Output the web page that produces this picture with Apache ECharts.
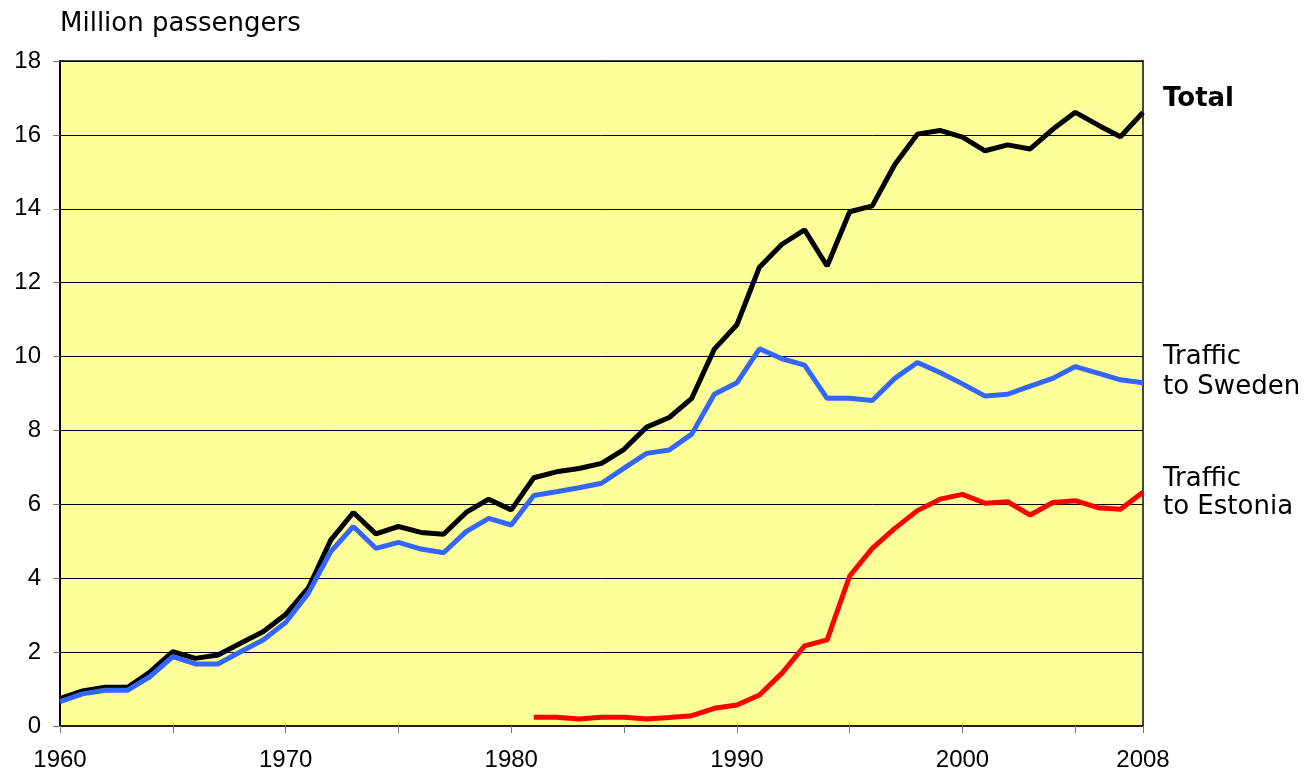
<!DOCTYPE html>
<html>
<head>
<meta charset="utf-8">
<script src="https://cdn.jsdelivr.net/npm/echarts@6/dist/echarts.min.js"></script>
<style>
  html, body { margin: 0; padding: 0; background: #fff; }
  #chart { width: 1310px; height: 775px; }
</style>
</head>
<body>
<div id="chart"></div>
<script>
// years 1960..2008
const years = []
for (let y = 1960; y <= 2008; y++) years.push(y)

const total = [
  0.74, 0.95, 1.05, 1.05, 1.47, 2.01, 1.83, 1.92, 2.24, 2.55,
  3.02, 3.73, 5.03, 5.78, 5.2, 5.4, 5.24, 5.19, 5.78, 6.14,
  5.85, 6.72, 6.88, 6.97, 7.11, 7.49, 8.09, 8.35, 8.87, 10.2,
  10.86, 12.42, 13.04, 13.43, 12.45, 13.92, 14.08, 15.2, 16.02, 16.12,
  15.94, 15.57, 15.73, 15.62, 16.15, 16.61, 16.27, 15.95, 16.61
]

const sweden = [
  0.66, 0.87, 0.97, 0.97, 1.34, 1.88, 1.68, 1.68, 2.01, 2.33,
  2.8, 3.59, 4.72, 5.4, 4.81, 4.97, 4.79, 4.69, 5.26, 5.62,
  5.44, 6.24, 6.34, 6.45, 6.57, 6.98, 7.38, 7.47, 7.9, 8.98,
  9.29, 10.21, 9.94, 9.77, 8.87, 8.87, 8.81, 9.41, 9.84, 9.57,
  9.26, 8.93, 8.98, 9.2, 9.41, 9.73, 9.55, 9.37, 9.29
]

// Estonia starts 1981
const estoniaYears = []
for (let y = 1981; y <= 2008; y++) estoniaYears.push(y)
const estonia = [
  0.24, 0.24, 0.19, 0.24, 0.24, 0.19, 0.23, 0.28, 0.48,
  0.57, 0.84, 1.43, 2.17, 2.33, 4.06, 4.81, 5.35, 5.83, 6.14,
  6.27, 6.03, 6.07, 5.71, 6.05, 6.1, 5.91, 5.87, 6.33
]

const yTicks = [0, 2, 4, 6, 8, 10, 12, 14, 16, 18]
const xLabels = [1960, 1970, 1980, 1990, 2000, 2008]

const font = 'DejaVu Sans, Verdana, sans-serif'
const numFont = 'Liberation Sans, Arial, sans-serif'

const chart = echarts.init(document.getElementById('chart'))

function label(text, x, y, bold) {
  return {
    type: 'text', x: x, y: y,
    style: {
      text: text,
      font: (bold ? 'bold ' : '') + '26px ' + font,
      fill: '#000',
      verticalAlign: 'middle'
    }
  }
}

const option = {
  backgroundColor: '#ffffff',
  animation: false,
  grid: {
    left: 60,
    right: 167,
    top: 61,
    bottom: 49,
    show: true,
    backgroundColor: '#ffff99',
    borderColor: '#444',
    borderWidth: 2
  },
  xAxis: {
    type: 'value',
    min: 1960,
    max: 2008,
    interval: 5,
    axisLine: { show: true, lineStyle: { color: '#222', width: 2 } },
    axisTick: { show: true, inside: false, length: 7, lineStyle: { color: '#777', width: 1 } },
    splitLine: { show: false },
    axisLabel: {
      color: '#000',
      fontFamily: numFont,
      fontSize: 24,
      margin: 22,
      showMaxLabel: true,
      formatter: v => xLabels.includes(v) ? String(v) : ''
    }
  },
  yAxis: {
    type: 'value',
    min: yTicks[0],
    max: yTicks[yTicks.length - 1],
    interval: 2,
    axisLine: { show: true, lineStyle: { color: '#000', width: 2 } },
    axisTick: { show: true, length: 7, lineStyle: { color: '#777' } },
    splitLine: { show: true, lineStyle: { color: '#000', width: 1 } },
    axisLabel: {
      color: '#000',
      fontFamily: numFont,
      fontSize: 24,
      margin: 19
    }
  },
  series: [
    {
      name: 'Total',
      type: 'line',
      data: years.map((y, i) => [y, total[i]]),
      symbol: 'none',
      lineStyle: { color: '#000', width: 5 },
      z: 3
    },
    {
      name: 'Traffic to Sweden',
      type: 'line',
      data: years.map((y, i) => [y, sweden[i]]),
      symbol: 'none',
      lineStyle: { color: '#3366ff', width: 5 },
      z: 4
    },
    {
      name: 'Traffic to Estonia',
      type: 'line',
      data: estoniaYears.map((y, i) => [y, estonia[i]]),
      symbol: 'none',
      lineStyle: { color: '#ff0000', width: 5 },
      z: 5
    }
  ],
  graphic: [
    label('Million passengers', 60, 24),
    label('Total', 1163, 99, true),
    label('Traffic', 1163, 357),
    label('to Sweden', 1163, 387),
    label('Traffic', 1163, 479),
    label('to Estonia', 1163, 507)
  ]
}

option && chart.setOption(option)
</script>
</body>
</html>
